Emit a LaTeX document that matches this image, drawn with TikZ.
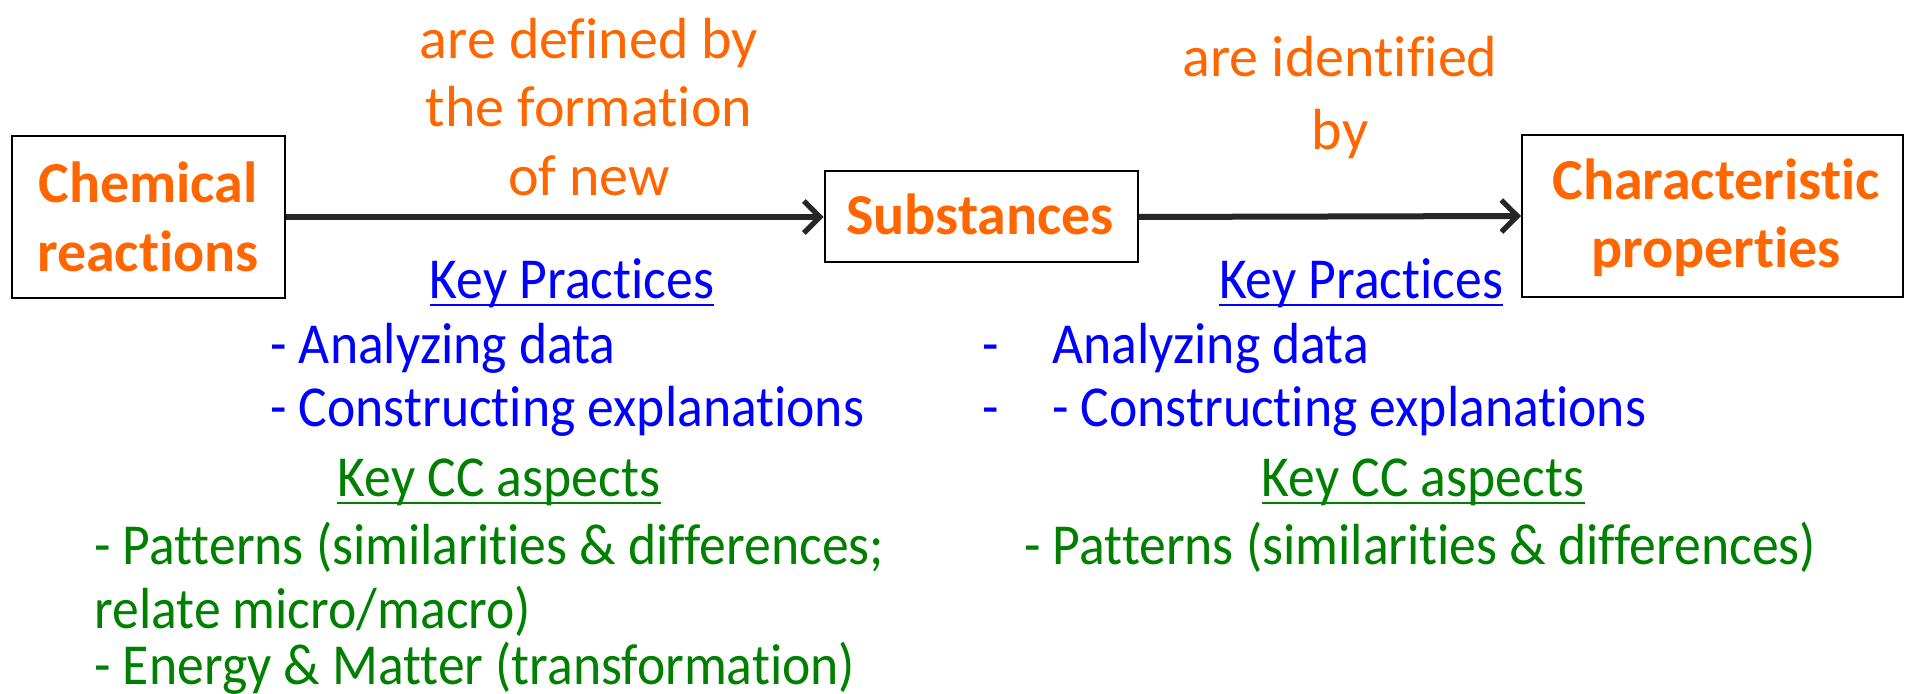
\documentclass[tikz,border=0pt]{standalone}
\usepackage{fontspec}
\setmainfont{Carlito}[Ligatures=NoCommon,RawFeature=-liga,RawFeature=-calt]
\newfontfamily\narrowfont{Carlito}[Ligatures=NoCommon,RawFeature=-liga,RawFeature=-calt,FakeStretch=0.925]
\usetikzlibrary{arrows.meta}
\definecolor{orng}{RGB}{255,102,0}
\definecolor{blu}{RGB}{0,0,255}
\definecolor{grn}{RGB}{0,128,0}
\definecolor{arr}{RGB}{38,38,38}
\begin{document}
\begin{tikzpicture}[x=0.5pt,y=-0.5pt,
  every node/.style={font=\fontsize{29}{34.5}\selectfont, inner sep=0pt},
  box/.style={draw=black, line width=1pt},
  btxt/.style={text=orng, anchor=base, font=\fontsize{29}{34.5}\selectfont\bfseries},
  lbl/.style={text=orng, anchor=base},
  lst/.style={font=\narrowfont\fontsize{29}{34.5}\selectfont},
  prac/.style={lst, text=blu, anchor=base west},
  cc/.style={lst, text=grn, anchor=base west},
  ul/.style={line width=1.3pt},
  conn/.style={draw=arr, line width=3pt, -{Straight Barb[length=8pt,width=16pt,line width=2.6pt]}}
]
\useasboundingbox (0,0) rectangle (1905,694);
% boxes
\node[box, minimum width=136.5pt, minimum height=81pt] (b1) at (148,217) {};
\node[box, minimum width=156.5pt, minimum height=45.5pt] (b2) at (981,217) {};
\node[box, minimum width=190.5pt, minimum height=81pt] (b3) at (1712.5,216) {};
\node[btxt] (t1a) at (148,203) {Chemical};
\node[btxt] (t1b) at (148,272) {reactions};
\node[btxt] (t2) at (980,235) {Substances};
\node[btxt] (t3a) at (1716,200) {Characteristic};
\node[btxt] (t3b) at (1716,268) {properties};
% connectors
\draw[conn] (b1.east) -- (b2.west);
\draw[conn] (b2.east) -- (b3.west);
% connector labels
\node[lbl] (l1a) at (589,59) {are defined by};
\node[lbl] (l1b) at (589,127) {the formation};
\node[lbl] (l1c) at (589,196) {of new};
\node[lbl] (l2a) at (1340,77) {are identified};
\node[lbl] (l2b) at (1340,150) {by};
% left lists
\node[lst, text=blu, anchor=base] (kp1) at (572,299) {Key Practices};
\draw[ul, blu] ([yshift=-3pt]kp1.base west) -- ([yshift=-3pt]kp1.base east);
\node[prac] (p1a) at (270,364) {- Analyzing data};
\node[prac] (p1b) at (270,427) {- Constructing explanations};
\node[lst, text=grn, anchor=base] (kc1) at (499,497) {Key CC aspects};
\draw[ul, grn] ([yshift=-3pt]kc1.base west) -- ([yshift=-3pt]kc1.base east);
\node[cc] (c1a) at (94,565) {- Patterns (similarities \& differences;};
\node[cc] (c1b) at (94,628) {relate micro/macro)};
\node[cc] (c1c) at (94,684) {- Energy \& Matter (transformation)};
% right lists
\node[lst, text=blu, anchor=base] (kp2) at (1361,299) {Key Practices};
\draw[ul, blu] ([yshift=-3pt]kp2.base west) -- ([yshift=-3pt]kp2.base east);
\node[prac] (d2a) at (982,364) {-};
\node[prac] (p2a) at (1052,364) {Analyzing data};
\node[prac] (d2b) at (982,427) {-};
\node[prac] (p2b) at (1052,427) {- Constructing explanations};
\node[lst, text=grn, anchor=base] (kc2) at (1423,497) {Key CC aspects};
\draw[ul, grn] ([yshift=-3pt]kc2.base west) -- ([yshift=-3pt]kc2.base east);
\node[cc] (c2a) at (1024,565) {- Patterns (similarities \& differences)};
\end{tikzpicture}
\end{document}
